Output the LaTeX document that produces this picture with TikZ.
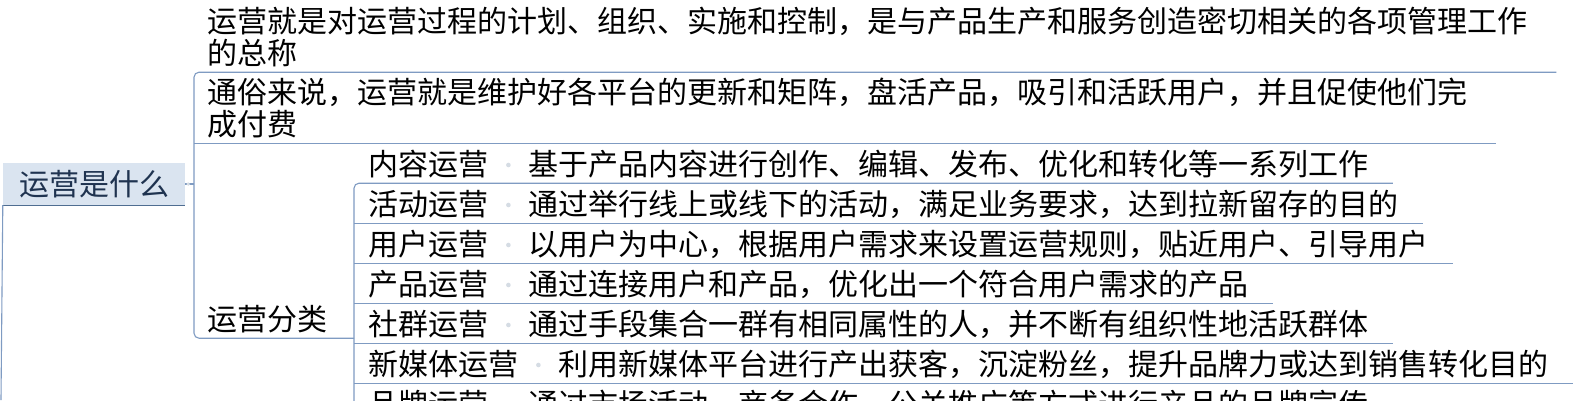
\documentclass[tikz,border=0pt]{standalone}
\usepackage{fontspec}
\newfontfamily\cjkfont{Noto Sans CJK SC}
\usetikzlibrary{positioning,calc}

\definecolor{branchblue}{HTML}{7F9BC2}
\definecolor{rootfill}{HTML}{DAE4F0}
\definecolor{rootline}{HTML}{4F6D91}
\definecolor{roottext}{HTML}{1F3350}
\definecolor{knotgray}{HTML}{D5DCE4}

\begin{document}
\begin{tikzpicture}[x=1pt,y=1pt,
	topic/.style={anchor=base west, text depth=8pt, align=left},
	branch/.style={draw=branchblue, line width=1.1pt},
	knot/.style={fill=knotgray}]
	\tikzstyle{every node}=[font=\cjkfont\fontsize{30}{32}\selectfont, inner sep=0pt]
	
	\useasboundingbox (0,0) rectangle (1594,-400);
	\clip (0,0) rectangle (1594,-400);
	\fill[white] (0,0) rectangle (1594,-400);
	
	\coordinate (brk) at (194,0);
	\coordinate (brk2) at (354,0);
	
	% root topic
	\node[fill=rootfill, text=roottext, minimum width=182pt, minimum height=42pt] (root) at (94,-184) {运营是什么};
	\draw[rootline, line width=1.3pt] (root.south west) -- (root.south east);
	\draw[branch] (root.south west) -- (1,-400);
	
	% first level (base = last line)
	\node[topic] (def) at (207,-64) {运营就是对运营过程的计划、组织、实施和控制，是与产品生产和服务创造密切相关的各项管理工作\\的总称};
	\node[topic] (pop) at (207,-135) {通俗来说，运营就是维护好各平台的更新和矩阵，盘活产品，吸引和活跃用户，并且促使他们完\\成付费};
	\node[topic] (cls) at (207,-330) {运营分类};
	
	\draw[branch] (root.east) -- (root.east -| brk);
	\fill[knot] ([xshift=3pt]root.east) circle (1.8pt);
	\draw[branch, rounded corners=5pt] ([xshift=29pt]def.south east) -- (def.south -| brk) -- (cls.south -| brk) -- (cls.south -| brk2);
	\draw[branch] (pop.south -| brk) -- ([xshift=29pt]pop.south east);
	
	% second level
	\node[topic] (nm1) at (368,-175) {内容运营};
	\node[topic, base right=40pt of nm1] (ds1) {基于产品内容进行创作、编辑、发布、优化和转化等一系列工作};
	\node[topic] (nm2) at (368,-215) {活动运营};
	\node[topic, base right=40pt of nm2] (ds2) {通过举行线上或线下的活动，满足业务要求，达到拉新留存的目的};
	\node[topic] (nm3) at (368,-255) {用户运营};
	\node[topic, base right=40pt of nm3] (ds3) {以用户为中心，根据用户需求来设置运营规则，贴近用户、引导用户};
	\node[topic] (nm4) at (368,-295) {产品运营};
	\node[topic, base right=40pt of nm4] (ds4) {通过连接用户和产品，优化出一个符合用户需求的产品};
	\node[topic] (nm5) at (368,-335) {社群运营};
	\node[topic, base right=40pt of nm5] (ds5) {通过手段集合一群有相同属性的人，并不断有组织性地活跃群体};
	\node[topic] (nm6) at (368,-375) {新媒体运营};
	\node[topic, base right=40pt of nm6] (ds6) {利用新媒体平台进行产出获客，沉淀粉丝，提升品牌力或达到销售转化目的};
	\node[topic] (nm7) at (368,-415) {品牌运营};
	\node[topic, base right=40pt of nm7] (ds7) {通过市场活动、商务合作、公关推广等方式进行产品的品牌宣传};
	
	\draw[branch, rounded corners=5pt] ([xshift=24pt]ds1.south east) -- (ds1.south -| brk2) -- (ds7.south -| brk2) -- ([xshift=24pt]ds7.south east);
	\draw[branch] (ds2.south -| brk2) -- ([xshift=24pt]ds2.south east);
	\draw[branch] (ds3.south -| brk2) -- ([xshift=24pt]ds3.south east);
	\draw[branch] (ds4.south -| brk2) -- ([xshift=24pt]ds4.south east);
	\draw[branch] (ds5.south -| brk2) -- ([xshift=24pt]ds5.south east);
	\draw[branch] (ds6.south -| brk2) -- ([xshift=24pt]ds6.south east);
	
	\fill[knot] ($(nm1.base east)!.5!(ds1.base west)+(0,10)$) circle (2.3pt);
	\fill[knot] ($(nm2.base east)!.5!(ds2.base west)+(0,10)$) circle (2.3pt);
	\fill[knot] ($(nm3.base east)!.5!(ds3.base west)+(0,10)$) circle (2.3pt);
	\fill[knot] ($(nm4.base east)!.5!(ds4.base west)+(0,10)$) circle (2.3pt);
	\fill[knot] ($(nm5.base east)!.5!(ds5.base west)+(0,10)$) circle (2.3pt);
	\fill[knot] ($(nm6.base east)!.5!(ds6.base west)+(0,10)$) circle (2.3pt);
	\fill[knot] ($(nm7.base east)!.5!(ds7.base west)+(0,10)$) circle (2.3pt);
	
\end{tikzpicture}
\end{document}
